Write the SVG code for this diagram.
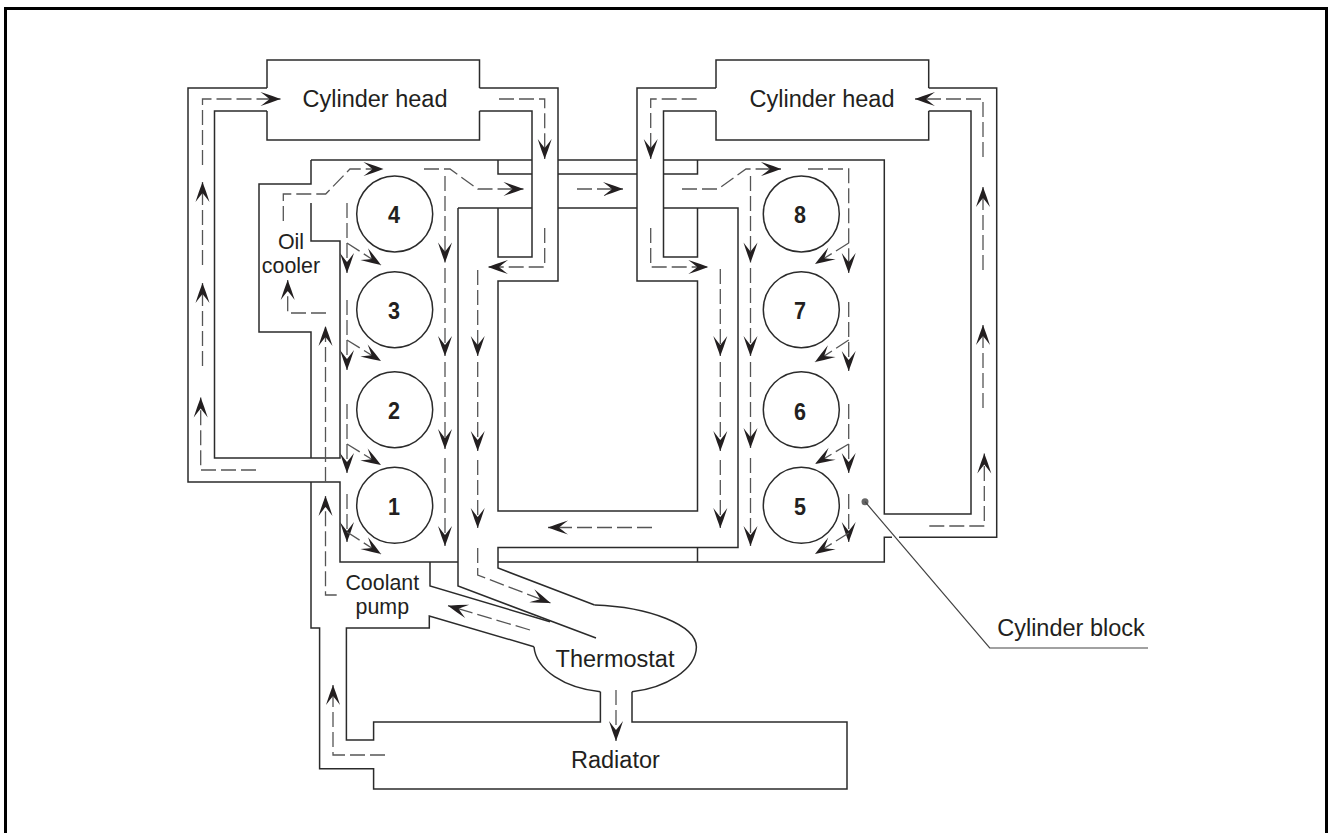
<svg xmlns="http://www.w3.org/2000/svg" width="1329" height="833" viewBox="0 0 1329 833">
<style>
.w{fill:none;stroke:#2b2b2b;stroke-width:1.5;stroke-linejoin:miter}
.f{fill:none;stroke:#555;stroke-width:1.3;stroke-dasharray:15 5}
.a{marker-end:url(#h)}
.c{fill:#fff;stroke:#2b2b2b;stroke-width:1.5}
text{font-family:"Liberation Sans",Arial,sans-serif;fill:#231f20;font-size:23.5px;text-anchor:middle}
.s{font-size:21.4px}
.n{font-weight:bold;font-size:24px}
</style>
<defs>
<marker id="h" markerUnits="userSpaceOnUse" markerWidth="22" markerHeight="18" refX="20" refY="8" orient="auto" overflow="visible">
<path d="M20 8Q11 4.5 0 1Q6 5.5 9 8Q6 10.500 0 15Q11 11.500 20 8Z" fill="#231f20"/>
</marker>
</defs>
<rect width="1329" height="833" fill="#fff"/>
<path id="frame" d="M5.500 833V8.500H1326.500V833" fill="none" stroke="#000" stroke-width="3"/>
<g id="walls">
<path class="w" d="M267 88H188V482H340V562H458"/>
<path class="w" d="M267 111H214.500V458H340V241H311V203"/>
<path class="w" d="M311 160V184H259V332H311V458"/>
<path class="w" d="M311 482V628H319.600V768.700H373.600V789H847V722H632V691.700"/>
<path class="w" d="M311 160H532"/>
<path class="w" d="M479.500 88H558V281H498V511H697.500V281H637V88H716"/>
<path class="w" d="M479.500 111H532V257H498V208"/>
<path class="w" d="M498 160V174H532"/>
<path class="w" d="M458 562V586L596 638"/>
<path class="w" d="M458 208H532"/>
<path class="w" d="M458 208V562"/>
<path class="w" d="M558 160H637M558 174H637M558 208H637"/>
<path class="w" d="M716 111H663.500V257H697.500V208"/>
<path class="w" d="M663.500 160H884.300V514H971V111H928.700"/>
<path class="w" d="M697.500 160V174H663.500"/>
<path class="w" d="M663.500 208H738V547.500H498V568L594.600 605"/>
<path class="w" d="M498 562H884.300V537.300H892M899 537.300H996.700V88H928.700"/>
<path class="w" d="M697.500 547.500V562"/>
<path class="w" d="M430 562V586L550 621.700"/>
<path class="w" d="M600.400 691.700V722H373.600V740H346.400V628H429.300V616L534 646.700"/>
<path class="w" d="M594.600 605C650 607 696 625 696.400 647C696 670 665 688 632 691.700"/>
<path class="w" d="M534 646.700C536 670 565 688 600.400 691.700"/>
</g>
<g id="head-left"><path class="w" d="M267 88V60H479.500V88M267 111V140H479.500V111"/><text x="375" y="107">Cylinder head</text></g>
<g id="head-right"><path class="w" d="M716 88V60H928.700V88M716 111V140H928.700V111"/><text x="822" y="107">Cylinder head</text></g>
<g id="cyl-4"><circle class="c" cx="394.700" cy="214" r="38"/><text class="n" x="394" y="223" textLength="12" lengthAdjust="spacingAndGlyphs">4</text></g>
<g id="cyl-3"><circle class="c" cx="394.700" cy="309.700" r="38"/><text class="n" x="394" y="319" textLength="12" lengthAdjust="spacingAndGlyphs">3</text></g>
<g id="cyl-2"><circle class="c" cx="394.700" cy="409.700" r="38"/><text class="n" x="394" y="419" textLength="12" lengthAdjust="spacingAndGlyphs">2</text></g>
<g id="cyl-1"><circle class="c" cx="394.700" cy="505.300" r="38"/><text class="n" x="394" y="514.500" textLength="12" lengthAdjust="spacingAndGlyphs">1</text></g>
<g id="cyl-8"><circle class="c" cx="801.300" cy="214" r="38"/><text class="n" x="800" y="223" textLength="12" lengthAdjust="spacingAndGlyphs">8</text></g>
<g id="cyl-7"><circle class="c" cx="801.300" cy="309.700" r="38"/><text class="n" x="800" y="319" textLength="12" lengthAdjust="spacingAndGlyphs">7</text></g>
<g id="cyl-6"><circle class="c" cx="801.300" cy="409.700" r="38"/><text class="n" x="800" y="420" textLength="12" lengthAdjust="spacingAndGlyphs">6</text></g>
<g id="cyl-5"><circle class="c" cx="801.300" cy="505.300" r="38"/><text class="n" x="800" y="514.700" textLength="12" lengthAdjust="spacingAndGlyphs">5</text></g>
<g id="oil-cooler"><text class="s" x="291" y="249">Oil</text><text class="s" x="291" y="272.700">cooler</text></g>
<g id="coolant-pump"><text class="s" x="382.300" y="590">Coolant</text><text class="s" x="382.300" y="613.500">pump</text></g>
<g id="thermostat"><text x="615" y="666.700">Thermostat</text></g>
<g id="radiator"><text x="615.400" y="768">Radiator</text></g>
<g id="cylinder-block">
<circle cx="865" cy="501.700" r="3.500" fill="#666"/>
<path d="M865 501.700L989.700 648H1148" fill="none" stroke="#444" stroke-width="1.2"/>
<text x="1071" y="636">Cylinder block</text>
</g>
<g id="connectors">
<path class="f a" d="M256 470H200.700V397.500"/>
<path class="f a" d="M202.500 366V283"/>
<path class="f a" d="M202.500 265V182"/>
<path class="f a" d="M202.500 165V99H280.500"/>
<path class="f a" d="M499 99H544.700V159"/>
<path class="f a" d="M544.700 228V267H488"/>
<path class="f a" d="M477.700 270V356"/>
<path class="f a" d="M477.700 362V451"/>
<path class="f a" d="M477.700 460V528"/>
<path class="f a" d="M477.700 548V575L550.500 603"/>
<path class="f a" d="M283.300 221V194H325.700L350 169H383.500"/>
<path class="f a" d="M424 169H450L477.700 189H523.500"/>
<path class="f a" d="M445 176V262.500"/>
<path class="f a" d="M445 268V356"/>
<path class="f a" d="M445 362V449"/>
<path class="f a" d="M445 458V546"/>
<path class="f a" d="M347 203V273"/>
<path class="f a" d="M347 243L381 265"/>
<path class="f a" d="M347 300V370"/>
<path class="f a" d="M347 340L381 361"/>
<path class="f a" d="M347 404V473"/>
<path class="f a" d="M347 444L381 465"/>
<path class="f a" d="M347 494V542"/>
<path class="f a" d="M347 532L381 554"/>
<path class="f a" d="M326 313H287.700V280"/>
<path class="f a" d="M336.700 595H325.500V496"/>
<path class="f a" d="M325.500 482V326"/>
<path class="f a" d="M530 630L448 605.700"/>
<path class="f a" d="M385 755H333V685"/>
<path class="f a" d="M616 690V741"/>
<path class="f a" d="M577 189H623"/>
<path class="f a" d="M652 527.500H548"/>
<path class="f a" d="M696.700 99H650.700V159"/>
<path class="f a" d="M650.700 228V267H708.300"/>
<path class="f a" d="M720.300 269V356"/>
<path class="f a" d="M720.300 362V451"/>
<path class="f a" d="M720.300 460V528"/>
<path class="f a" d="M682 189H718L746 169H781"/>
<path class="f a" d="M750.500 176V262.500"/>
<path class="f a" d="M750.500 268V356"/>
<path class="f a" d="M750.500 362V448"/>
<path class="f a" d="M750.500 458V546"/>
<path class="f a" d="M808 169H848.700V273"/>
<path class="f a" d="M848.700 243L815 264"/>
<path class="f a" d="M848.700 302V371"/>
<path class="f a" d="M848.700 340L815 362"/>
<path class="f a" d="M848.700 404V473"/>
<path class="f a" d="M848.700 444L815 464"/>
<path class="f a" d="M848.700 494V542"/>
<path class="f a" d="M848.700 533L815 554"/>
<path class="f a" d="M929.300 526H984.300V453.500"/>
<path class="f a" d="M983 408V325"/>
<path class="f a" d="M983 270V187"/>
<path class="f a" d="M983 157V99H915"/>
</g>
</svg>
